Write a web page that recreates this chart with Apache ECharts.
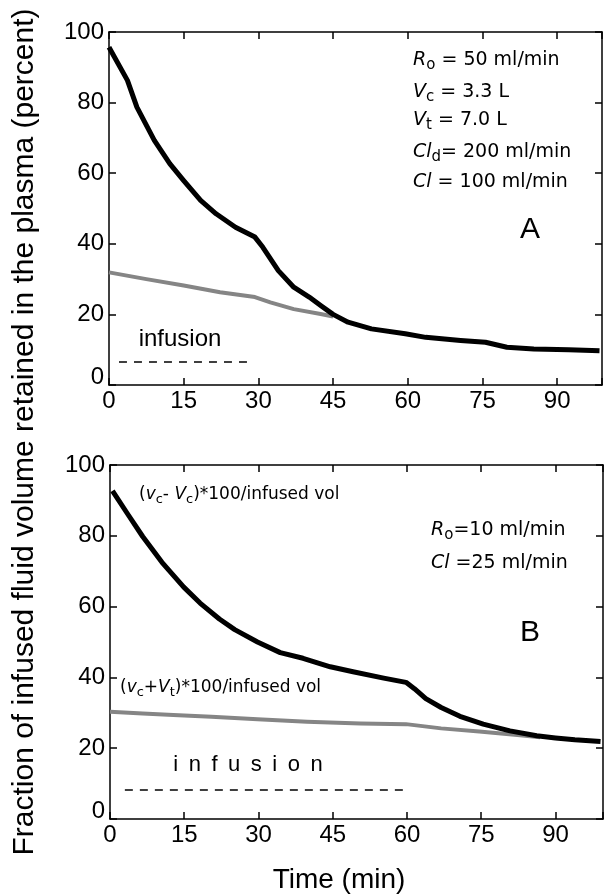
<!DOCTYPE html>
<html>
<head>
<meta charset="utf-8">
<script src="https://cdn.jsdelivr.net/npm/echarts@6/dist/echarts.min.js"></script>
<style>
  html, body { margin: 0; padding: 0; background: #fff; }
  #chart { width: 606px; height: 894px; }
</style>
</head>
<body>
<div id="chart"></div>
<script>
// Tick labels
const timeTicks = [0, 15, 30, 45, 60, 75, 90];
const pctTicks = [0, 20, 40, 60, 80, 100];

// Panel A: Ro = 50 ml/min, 30-min infusion
const plasmaA = [[0, 95.7], [3.7, 86.3], [5.6, 78.7], [9.1, 69.3], [12.2, 62.7], [15, 57.9],
  [18.4, 52.3], [21.5, 48.5], [25.4, 44.7], [29.3, 41.9], [30.9, 39], [34, 32.4], [37.1, 27.7],
  [40.2, 24.9], [42.5, 22.5], [45, 20], [48, 17.8], [52.7, 15.9], [59.5, 14.5], [63.6, 13.5],
  [70.6, 12.6], [75.6, 12.1], [79.9, 10.7], [85.3, 10.2], [92.3, 10], [98.5, 9.7]];
const totalA = [[0, 31.9], [7.5, 30], [15, 28.2], [22.3, 26.3], [29.3, 24.9], [32.4, 23.4],
  [37.1, 21.5], [42.5, 20.1], [45, 19.4]];
const infusionA = [[2, 6.5], [28.5, 6.5]];

// Panel B: Ro = 10 ml/min, 60-min infusion
const plasmaB = [[0.5, 92.7], [3.5, 86.3], [6.6, 79.8], [10.5, 72.5], [14.9, 65.5], [18.2, 61],
  [22.1, 56.5], [25.2, 53.5], [29.8, 50], [34.4, 47], [39, 45.4], [44.5, 43], [49.1, 41.6],
  [55.3, 39.8], [59.8, 38.6], [61.5, 36.8], [63.8, 34], [66.9, 31.5], [70.7, 29], [75.4, 26.8],
  [80.8, 24.9], [86.2, 23.5], [90, 22.9], [93.9, 22.4], [99.1, 21.9]];
const totalB = [[0, 30.3], [6.6, 29.8], [12.8, 29.4], [20.5, 28.9], [29.8, 28.2], [39.8, 27.5],
  [50.6, 27], [59.8, 26.8], [66.9, 25.6], [74.6, 24.7], [82.3, 23.7], [86.9, 23.1]];
const infusionB = [[3, 8.2], [59.5, 8.2]];

const SANS = 'Liberation Sans, Arial, sans-serif';
const NOTE = 'DejaVu Sans, sans-serif';
const axisLine = { onZero: false, lineStyle: { color: '#000', width: 1.5 } };
const axisTick = { inside: true, length: 7, lineStyle: { color: '#000', width: 1.5 } };

function xAxesFor(grid, max) {
  const base = {
    type: 'value', gridIndex: grid, min: 0, max: max, interval: 15,
    axisLine: axisLine, axisTick: axisTick, splitLine: { show: false }
  };
  return [
    Object.assign({}, base, {
      position: 'bottom',
      axisLabel: {
        color: '#000', fontSize: 24, fontFamily: SANS, margin: 4,
        formatter: v => timeTicks.includes(v) ? String(v) : ''
      }
    }),
    Object.assign({}, base, { position: 'top', axisLabel: { show: false } })
  ];
}

function yAxesFor(grid) {
  const base = {
    type: 'value', gridIndex: grid, min: 0, max: 100, interval: 20,
    axisLine: axisLine, axisTick: axisTick, splitLine: { show: false }
  };
  return [
    Object.assign({}, base, {
      position: 'left',
      axisLabel: {
        color: '#000', fontSize: 24, fontFamily: SANS, margin: 5,
        formatter: v => pctTicks.includes(v) ? (v === 0 ? '{z|0}' : String(v)) : '',
        rich: { z: { color: '#000', fontSize: 24, fontFamily: SANS, padding: [0, 0, 16, 0] } }
      }
    }),
    Object.assign({}, base, { position: 'right', axisLabel: { show: false } })
  ];
}

function line(data, xi, yi, color, width, type, z) {
  return {
    type: 'line', data: data, xAxisIndex: xi, yAxisIndex: yi,
    showSymbol: false, symbol: 'none', smooth: false, z: z, silent: true,
    lineStyle: { color: color, width: width, type: type || 'solid', cap: 'butt', join: 'round' }
  };
}

const noteRich = {
  i: { fontFamily: NOTE, fontSize: 19, fontStyle: 'italic', color: '#111' },
  n: { fontFamily: NOTE, fontSize: 19, color: '#111' },
  s: { fontFamily: NOTE, fontSize: 15, color: '#111', padding: [11, 0, 0, 0] },
  bi: { fontFamily: NOTE, fontSize: 17, fontStyle: 'italic', color: '#111' },
  bn: { fontFamily: NOTE, fontSize: 17, color: '#111' },
  bs: { fontFamily: NOTE, fontSize: 13, color: '#111', padding: [10, 0, 0, 0] }
};

function note(x, y, text) {
  return {
    type: 'text', x: x, y: y, silent: true,
    style: { text: text, rich: noteRich, verticalAlign: 'middle', align: 'left' }
  };
}
function plain(x, y, text, size, font, extra) {
  return Object.assign({
    type: 'text', x: x, y: y, silent: true,
    style: { text: text, fontSize: size, fontFamily: font, fill: '#000', align: 'center', verticalAlign: 'middle' }
  }, extra || {});
}

const chart = echarts.init(document.getElementById('chart'), null, { renderer: 'canvas' });
chart.setOption({
  backgroundColor: '#fff',
  animation: false,
  grid: [
    { left: 109, top: 32, width: 493, height: 353 },
    { left: 110, top: 465, width: 499, height: 354 }
  ],
  xAxis: [...xAxesFor(0, 99), ...xAxesFor(1, 99.6)],
  yAxis: [...yAxesFor(0), ...yAxesFor(1)],
  series: [
    line(totalA, 0, 0, '#858585', 4, 'solid', 2),
    line(plasmaA, 0, 0, '#000', 5, 'solid', 3),
    line(infusionA, 0, 0, '#000', 1.5, [8, 7], 2),
    line(totalB, 2, 2, '#858585', 4, 'solid', 2),
    line(plasmaB, 2, 2, '#000', 5, 'solid', 3),
    line(infusionB, 2, 2, '#000', 1.5, [8, 7], 2)
  ],
  graphic: [
    note(413, 60, '{i|R}{s|o}{n| = 50 ml/min}'),
    note(413, 92, '{i|V}{s|c}{n| = 3.3 L}'),
    note(413, 120, '{i|V}{s|t}{n| = 7.0 L}'),
    note(413, 152, '{i|Cl}{s|d}{n|= 200 ml/min}'),
    note(413, 182, '{i|Cl}{n| = 100 ml/min}'),
    plain(530, 230, 'A', 30, SANS),
    plain(180, 339, 'infusion', 24, SANS),

    note(139, 495, '{bn|(}{bi|v}{bs|c}{bn|- }{bi|V}{bs|c}{bn|)*100/infused vol}'),
    note(431, 530, '{i|R}{s|o}{n|=10 ml/min}'),
    note(431, 563, '{i|Cl}{n| =25 ml/min}'),
    plain(530, 633, 'B', 30, SANS),
    note(120, 688, '{bn|(}{bi|v}{bs|c}{bn|+}{bi|V}{bs|t}{bn|)*100/infused vol}'),
    plain(248, 765, 'i\u2009 n\u2009 f\u2009 u\u2009 s\u2009 i\u2009 o\u2009 n', 22, SANS),

    plain(339, 880, 'Time (min)', 28, SANS),
    plain(25, 432, 'Fraction of infused fluid volume retained in the plasma (percent)', 30, SANS,
      { rotation: Math.PI / 2 })
  ]
});
</script>
</body>
</html>
